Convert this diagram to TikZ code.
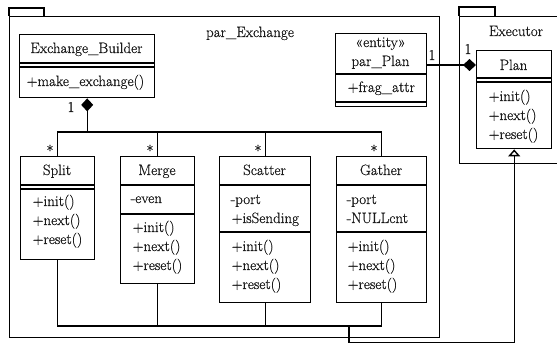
\documentclass[tikz,border=0pt]{standalone}
\usepackage{fontspec}
\setmainfont{Latin Modern Roman}[FakeBold=0.6]
\usetikzlibrary{arrows.meta}
\begin{document}
\begin{tikzpicture}[x=1pt,y=-1pt,
  line width=1.4pt,
  every node/.style={font=\fontsize{15}{18}\selectfont, inner sep=0pt, text=black!90},
  cls/.style={draw, anchor=north west},
  pkg/.style={draw, anchor=north west},
  title/.style={anchor=base},
  member/.style={anchor=base west},
  mult/.style={anchor=base},
  compose/.style={{Diamond[length=13pt,width=12pt]}-},
  owned/.style={-{Diamond[length=13pt,width=12pt]}},
  inherit/.style={-{Triangle[open,length=7pt,width=12pt]}},
]
\useasboundingbox (0,0) rectangle (557,344);

% packages
\begin{scope}
  \clip (0,0) rectangle (557,344);
  \node[pkg, minimum width=430pt, minimum height=321pt] (pxframe) at (9,16) {};
  \draw (9,16) -- (9,8) -- (44,8) -- (44,16);
  \node[pkg, minimum width=200pt, minimum height=147pt] (exframe) at (459,16) {};
  \draw (459,16) -- (459,7) -- (495,7) -- (495,16);
\end{scope}
\node[title] (pxlabel) at (250,37) {par\_Exchange};
\node[title] (exlabel) at (516,36) {Executor};

% Exchange_Builder
\node[cls, minimum width=135pt, minimum height=63pt] (eb) at (19,34) {};
\node[title] (ebname) at (86.5,53) {Exchange\_Builder};
\draw (19,63) -- (154,63);
\draw (19,67) -- (154,67);
\node[member] (ebm1) at (26,86) {+make\_exchange()};

% par_Plan
\node[cls, minimum width=91pt, minimum height=73pt] (parplan) at (335,33) {};
\node[title] (ppstereo) at (380.5,47) {«entity»};
\node[title] (ppname) at (380.5,66) {par\_Plan};
\draw (335,74) -- (426,74);
\node[member] (ppa1) at (347,92) {+frag\_attr};
\draw (335,102) -- (426,102);

% Plan
\node[cls, minimum width=75pt, minimum height=98pt] (plan) at (476,50) {};
\node[title] (planname) at (513.5,70) {Plan};
\draw (476,78) -- (551,78);
\draw (476,82) -- (551,82);
\node[member] (planm1) at (488,101) {+init()};
\node[member] (planm2) at (488,120) {+next()};
\node[member] (planm3) at (488,139) {+reset()};

% Split
\node[cls, minimum width=74pt, minimum height=103pt] (split) at (20,156) {};
\node[title] (splitname) at (57,175) {Split};
\draw (20,185) -- (94,185);
\draw (20,189) -- (94,189);
\node[member] (splitm1) at (32,206) {+init()};
\node[member] (splitm2) at (32,225) {+next()};
\node[member] (splitm3) at (32,244) {+reset()};

% Merge
\node[cls, minimum width=74pt, minimum height=127pt] (merge) at (120,156) {};
\node[title] (mergename) at (157,175) {Merge};
\draw (120,185) -- (194,185);
\node[member] (mergea1) at (130,203) {-even};
\draw (120,214) -- (194,214);
\node[member] (mergem1) at (132,232) {+init()};
\node[member] (mergem2) at (132,251) {+next()};
\node[member] (mergem3) at (132,270) {+reset()};

% Scatter
\node[cls, minimum width=91pt, minimum height=146pt] (scatter) at (219,156) {};
\node[title] (scattername) at (264.5,175) {Scatter};
\draw (219,185) -- (310,185);
\node[member] (scattera1) at (230,204) {-port};
\node[member] (scattera2) at (231,223) {+isSending};
\draw (219,232) -- (310,232);
\node[member] (scatterm1) at (231,251) {+init()};
\node[member] (scatterm2) at (231,270) {+next()};
\node[member] (scatterm3) at (231,289) {+reset()};

% Gather
\node[cls, minimum width=90pt, minimum height=146pt] (gather) at (336,156) {};
\node[title] (gathername) at (381,175) {Gather};
\draw (336,185) -- (426,185);
\node[member] (gathera1) at (346,204) {-port};
\node[member] (gathera2) at (346,223) {-NULLcnt};
\draw (336,232) -- (426,232);
\node[member] (gatherm1) at (347,251) {+init()};
\node[member] (gatherm2) at (347,270) {+next()};
\node[member] (gatherm3) at (347,289) {+reset()};

% composition: builder owns the exchange operators
\coordinate (bustop) at (87,132);
\draw[compose] (eb.south) -- (eb.south |- bustop);
\draw (split.north) -- (split.north |- bustop) -| (gather.north);
\draw (merge.north) -- (merge.north |- bustop);
\draw (scatter.north) -- (scatter.north |- bustop);

% generalisation: operators realise Plan
\coordinate (busbot) at (349,326);
\coordinate (turn) at (349,342.5);
\draw (split.south) -- (split.south |- busbot) -| (gather.south);
\draw (merge.south) -- (merge.south |- busbot);
\draw (scatter.south) -- (scatter.south |- busbot);
\draw[inherit] (busbot) -- (turn) -| (plan.south);

% composition: Plan owns par_Plan
\draw[owned] (parplan.east |- 0,65) -- (plan.west |- 0,65);

% multiplicities
\node[mult] (m1) at (71,112) {1};
\node[mult] (s1) at (50,156) {*};
\node[mult] (s2) at (150,156) {*};
\node[mult] (s3) at (258,156) {*};
\node[mult] (s4) at (374,156) {*};
\node[mult] (m2) at (432,60) {1};
\node[mult] (m3) at (468,54) {1};
\end{tikzpicture}
\end{document}
